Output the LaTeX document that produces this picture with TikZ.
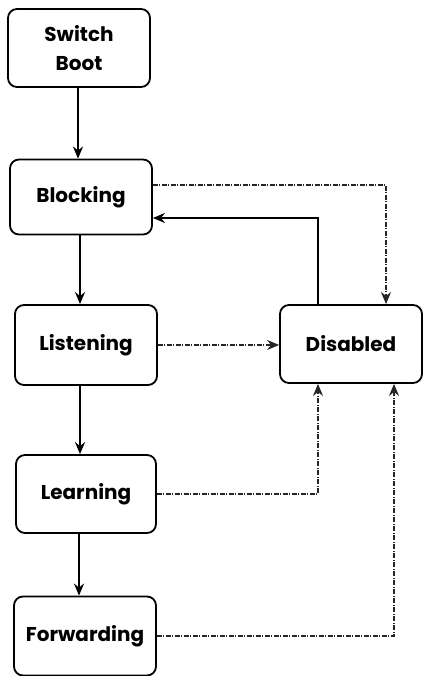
\documentclass[tikz,border=0pt]{standalone}
\usepackage{fontspec}
\setmainfont{Poppins}
\usepackage{tikz}
\usetikzlibrary{shapes,arrows.meta}
\usetikzlibrary{calc}

\begin{document}
\begin{tikzpicture}[x=1pt, y=1pt,
	state/.style={draw, line width=1.8pt, rounded corners=9pt, minimum width=142pt, minimum height=78pt, align=center, font=\bfseries\fontsize{20}{29}\selectfont},
	arr/.style={line width=1.5pt, -{Stealth[length=12pt,width=10pt]}},
	dotarr/.style={line width=1.2pt, black!85, dash pattern=on 5pt off 1.5pt on 1pt off 1.5pt, -{Stealth[length=12pt,width=10pt]}}]
	\useasboundingbox (0,0) rectangle (426,676);
	
	\node[state] (boot) at (79,628) {Switch\\Boot};
	\node[state, minimum height=75pt] (blocking) at (81,479) {Blocking};
	\node[state, minimum height=80pt] (listening) at (86,331) {Listening};
	\node[state, minimum width=140pt] (learning) at (86,182) {Learning};
	\node[state, minimum height=79pt] (forwarding) at (85,40) {Forwarding};
	\node[state] (disabled) at (351,332) {Disabled};
	
	\draw[arr, line width=2pt] ([xshift=-1pt]boot.south) -- ([xshift=-1pt]boot.south |- blocking.north);
	\draw[arr] ([xshift=-1pt]blocking.south) -- ([xshift=-1pt]blocking.south |- listening.north);
	\draw[arr] ([xshift=-6pt]listening.south) -- ([xshift=-6pt]listening.south |- learning.north);
	\draw[arr] ([xshift=-7pt]learning.south) -- ([xshift=-7pt]learning.south |- forwarding.north);
	
	\draw[arr] ([xshift=-33pt]disabled.north) |- ([yshift=-21pt]blocking.east);
	\draw[dotarr] ([yshift=12pt]blocking.east) -| ([xshift=35pt]disabled.north);
	\draw[dotarr] (listening.east) -- (listening.east -| disabled.west);
	\draw[dotarr] (learning.east) -| ([xshift=-33pt]disabled.south);
	\draw[dotarr] (forwarding.east) -| ([xshift=43pt]disabled.south);
\end{tikzpicture}
\end{document}
